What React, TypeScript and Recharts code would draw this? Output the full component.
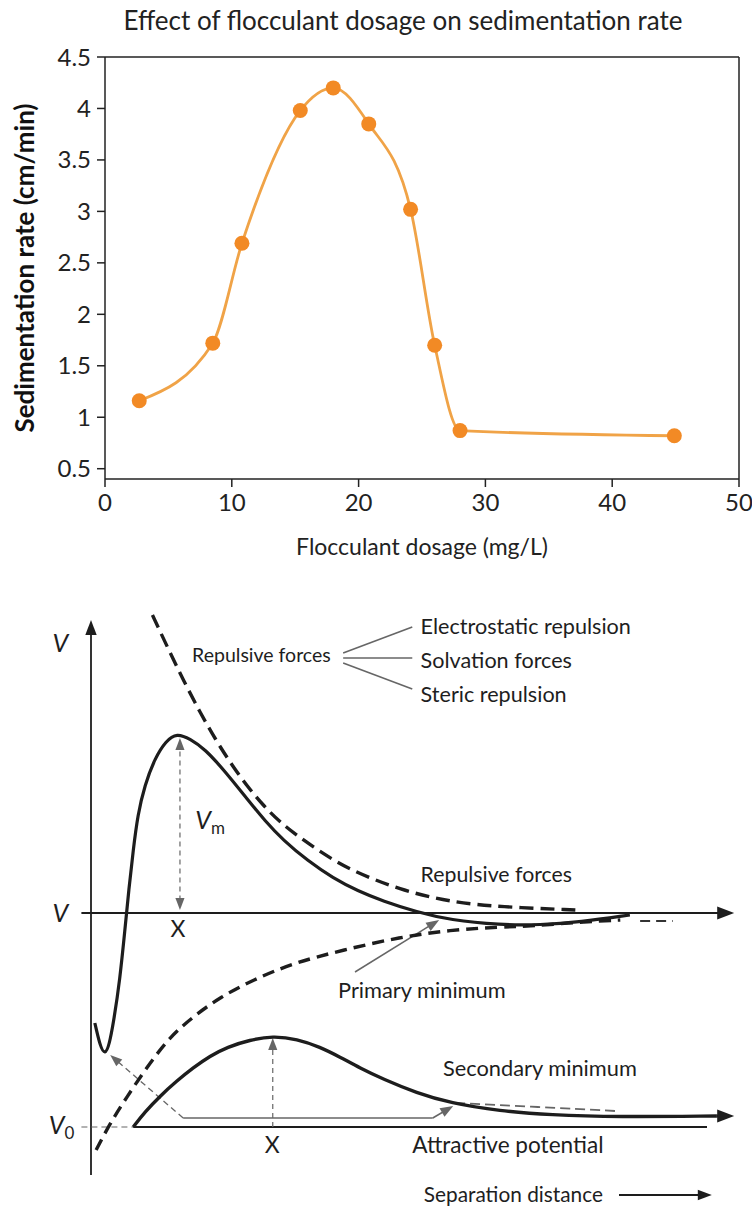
import React from 'react';
import {
  LineChart,
  ComposedChart,
  Line,
  XAxis,
  YAxis,
  ReferenceLine,
  ReferenceDot,
} from 'recharts';

// ---- top chart: sedimentation rate vs flocculant dosage ----
const dosage = [2.7, 8.5, 10.8, 15.4, 18.0, 20.8, 24.1, 26.0, 28.0, 44.9];
const sedimentationRate = [1.16, 1.72, 2.69, 3.98, 4.2, 3.85, 3.02, 1.7, 0.87, 0.82];
const dosageTicks = [0, 10, 20, 30, 40, 50];
const rateTicks = [0.5, 1, 1.5, 2, 2.5, 3, 3.5, 4, 4.5];

// ---- bottom diagram: interaction energy vs separation distance (schematic units) ----
// [distance, potential]
const repulsiveCurve = [
  [9.6, 29.8], [12, 26.5], [14.5, 23.2], [17, 20.1], [19.5, 17.3], [22, 14.8],
  [24.5, 12.6], [27, 10.7], [29.5, 9.1], [32.7, 7.5], [36.6, 5.8], [40.5, 4.3],
  [48.3, 2.3], [56.1, 1.1], [63.9, 0.6], [75.9, 0.3],
];
const attractiveCurve = [
  [0.8, -23.7], [3, -21], [5.6, -18.4], [8.75, -15.4], [12.3, -12.4], [15.9, -10.4],
  [20.2, -8.4], [25.3, -6.7], [31.6, -5], [39.4, -3.7], [48.3, -2.4], [56.1, -1.7],
  [63.9, -1.4], [69.1, -1.3], [76.4, -0.9], [82.7, -0.7],
];
const attractiveTail = [[85.8, -0.8], [90.9, -0.8]];
const netCurve = [
  [0.6, -11], [2.2, -15.4], [3.6, -10.7], [4.5, -6.7], [5.3, -1.7], [5.9, 2.3], [6.6, 6.3],
  [7.3, 9.8], [8.4, 12.8], [10, 15.5], [11.7, 17.2], [13.4, 18.0], [15.5, 17.4],
  [17.8, 16.4], [20.9, 14.2], [24.4, 11.4], [27.2, 9.2], [30, 7.3], [33.9, 5.2],
  [37.8, 3.5], [41.7, 2.2], [45.6, 1.2], [50.9, 0.1], [56.1, -0.7], [63.9, -1.2],
  [70.2, -1.2], [76.4, -0.9], [84.2, -0.2],
];
const secondaryCurve = [
  [6.6, -21.4], [8.4, -19.9], [10.8, -18.3], [13.4, -16.8], [15.9, -15.5], [18.6, -14.3],
  [21.3, -13.4], [24.8, -12.7], [28.4, -12.3], [32.2, -12.6], [35.8, -13.4], [38.9, -14.4],
  [42.0, -15.5], [45.6, -16.6], [50.9, -18.0], [56.1, -19.0], [63.9, -19.8], [71.7, -20.2],
  [82.2, -20.4], [97.8, -20.3],
];
const secondaryTangent = [[56.9, -19.0], [70, -19.4], [81.9, -19.8]];

const V0 = -21.4;
const peakX = 13.9;
const peakV = 17.5;
const barrierX = 28.4;
const barrierV = -12.5;

const toPts = (arr: number[][]) => arr.map(([x, y]) => ({ x, y }));

const FONT = 'Lato, "Open Sans", sans-serif';
const INK = '#1d1d1d';
const GREY = '#666';

const arrowShape =
  (opts: { color: string; width: number; dash?: string; head?: 'end' | 'both' | 'none'; size?: number }) =>
  (p: any) => {
    const { x1, y1, x2, y2 } = p;
    const a = Math.atan2(y2 - y1, x2 - x1);
    const s = opts.size ?? 10;
    const w = s * 0.38;
    const head = (x: number, y: number, ang: number) => {
      const bx = x - s * Math.cos(ang);
      const by = y - s * Math.sin(ang);
      return `M${x},${y} L${bx + w * Math.sin(ang)},${by - w * Math.cos(ang)} L${bx - w * Math.sin(ang)},${by + w * Math.cos(ang)} Z`;
    };
    const h = opts.head ?? 'end';
    const ex = h === 'none' ? x2 : x2 - s * 0.8 * Math.cos(a);
    const ey = h === 'none' ? y2 : y2 - s * 0.8 * Math.sin(a);
    const sx = h === 'both' ? x1 + s * 0.8 * Math.cos(a) : x1;
    const sy = h === 'both' ? y1 + s * 0.8 * Math.sin(a) : y1;
    return (
      <g>
        <line x1={sx} y1={sy} x2={ex} y2={ey} stroke={opts.color} strokeWidth={opts.width} strokeDasharray={opts.dash} />
        {h !== 'none' && <path d={head(x2, y2, a)} fill={opts.color} />}
        {h === 'both' && <path d={head(x1, y1, a + Math.PI)} fill={opts.color} />}
      </g>
    );
  };

const textShape =
  (content: React.ReactNode, anchor: 'start' | 'middle' = 'start', size = 22, italic = false) =>
  (p: any) => (
    <text
      x={p.cx}
      y={p.cy}
      dy="0.35em"
      textAnchor={anchor}
      fontSize={size}
      fontFamily={FONT}
      fontStyle={italic ? 'italic' : 'normal'}
      fill="#1e1e1e"
    >
      {content}
    </text>
  );

const seg = (x1: number, y1: number, x2: number, y2: number) => [
  { x: x1, y: y1 },
  { x: x2, y: y2 },
];

const TopChart = () => (
  <LineChart
    width={752}
    height={575}
    data={dosage.map((d, i) => ({ dosage: d, rate: sedimentationRate[i] }))}
    margin={{ top: 57, right: 13, bottom: 16, left: 0 }}
  >
    <XAxis
      dataKey="dosage"
      type="number"
      domain={[0, 50]}
      ticks={dosageTicks}
      allowDataOverflow
      height={80}
      tickSize={8}
      tickMargin={7}
      axisLine={{ stroke: '#222', strokeWidth: 1.5 }}
      tickLine={{ stroke: '#222', strokeWidth: 1.5 }}
      tick={{ fontSize: 24, fill: '#222', fontFamily: FONT }}
      label={{
        value: 'Flocculant dosage (mg/L)',
        position: 'insideBottom',
        offset: 4,
        style: { fontSize: 23, fill: '#222', fontFamily: FONT },
      }}
    />
    <YAxis
      dataKey="rate"
      type="number"
      domain={[0.4, 4.5]}
      ticks={rateTicks}
      allowDataOverflow
      width={105}
      tickSize={8}
      tickMargin={6}
      axisLine={{ stroke: '#222', strokeWidth: 1.5 }}
      tickLine={{ stroke: '#222', strokeWidth: 1.5 }}
      tick={{ fontSize: 24, fill: '#222', fontFamily: FONT }}
      label={{
        value: 'Sedimentation rate (cm/min)',
        angle: -90,
        position: 'insideLeft',
        offset: 25,
        style: { textAnchor: 'middle', fontSize: 26, fontWeight: 700, fill: '#111', fontFamily: FONT },
      }}
    />
    <ReferenceLine y={4.5} stroke="#222" strokeWidth={1.5} />
    <ReferenceLine x={50} stroke="#222" strokeWidth={1.5} />
    <Line
      type="monotone"
      dataKey="rate"
      stroke="#F0A347"
      strokeWidth={2.8}
      dot={{ r: 7.5, fill: '#F28A25', stroke: '#F28A25', strokeWidth: 0 }}
      isAnimationActive={false}
    />
  </LineChart>
);

const curveLine = (key: string, data: number[][], stroke: string, width: number, dash?: string) => (
  <Line
    key={key}
    data={toPts(data)}
    dataKey="y"
    type="basis"
    stroke={stroke}
    strokeWidth={width}
    strokeDasharray={dash}
    dot={false}
    activeDot={false}
    isAnimationActive={false}
  />
);

const EnergyDiagram = () => (
  <ComposedChart width={752} height={632} margin={{ top: 28, right: 8.2, bottom: 0, left: 27 }}>
    <XAxis dataKey="x" type="number" domain={[-10, 102]} allowDataOverflow hide />
    <YAxis type="number" domain={[-29.4, 31]} allowDataOverflow hide width={0} />

    {/* axes */}
    <ReferenceLine segment={seg(0, -26.2, 0, 29.3)} shape={arrowShape({ color: INK, width: 1.8, size: 15 })} />
    <ReferenceLine segment={seg(-1.5, 0, 100.5, 0)} shape={arrowShape({ color: INK, width: 1.8, size: 17 })} />
    <ReferenceLine segment={seg(-1.5, V0, 6.6, V0)} shape={arrowShape({ color: GREY, width: 1.2, dash: '6 4', head: 'none' })} />
    <ReferenceLine segment={seg(6.6, V0, 96.25, V0)} shape={arrowShape({ color: INK, width: 1.8, head: 'none' })} />

    {/* fan lines */}
    <ReferenceLine segment={seg(39.4, 26.0, 50.2, 28.6)} shape={arrowShape({ color: GREY, width: 1.6, head: 'none' })} />
    <ReferenceLine segment={seg(39.4, 25.5, 50.2, 25.5)} shape={arrowShape({ color: GREY, width: 1.6, head: 'none' })} />
    <ReferenceLine segment={seg(39.4, 25.0, 50.2, 22.4)} shape={arrowShape({ color: GREY, width: 1.6, head: 'none' })} />

    {/* annotation arrows */}
    <ReferenceLine segment={seg(peakX, 0.3, peakX, peakV)} shape={arrowShape({ color: GREY, width: 1.2, dash: '5 4', head: 'both', size: 12 })} />
    <ReferenceLine segment={seg(barrierX, V0, barrierX, barrierV)} shape={arrowShape({ color: GREY, width: 1.2, dash: '5 4', size: 12 })} />
    <ReferenceLine segment={seg(41.25, -5.9, 54.4, -0.7)} shape={arrowShape({ color: GREY, width: 1.5, size: 13 })} />
    <ReferenceLine segment={seg(14.4, -20.5, 53.4, -20.5)} shape={arrowShape({ color: GREY, width: 1.5, head: 'none' })} />
    <ReferenceLine segment={seg(53.4, -20.5, 56.6, -19.3)} shape={arrowShape({ color: GREY, width: 1.5, size: 13 })} />
    <ReferenceLine segment={seg(14.4, -20.5, 3.0, -14.2)} shape={arrowShape({ color: GREY, width: 1.3, dash: '6 4', size: 12 })} />
    <ReferenceLine segment={seg(97.8, -20.3, 100.5, -20.3)} shape={arrowShape({ color: INK, width: 3, size: 17 })} />
    <ReferenceLine segment={seg(82.5, -28.2, 97, -28.2)} shape={arrowShape({ color: INK, width: 1.8, size: 14 })} />

    {/* curves */}
    {curveLine('rep', repulsiveCurve, INK, 3.4, '14 7')}
    {curveLine('att', attractiveCurve, INK, 3.4, '12 7')}
    {curveLine('attTail', attractiveTail, '#333', 2, '10 6')}
    {curveLine('net', netCurve, INK, 3.2)}
    {curveLine('tan', secondaryTangent, GREY, 1.8, '10 5')}
    {curveLine('sec', secondaryCurve, INK, 3.4)}

    {/* labels */}
    <ReferenceDot x={-4.8} y={27} r={0} shape={textShape('V', 'middle', 25, true)} />
    <ReferenceDot x={-4.8} y={0} r={0} shape={textShape('V', 'middle', 25, true)} />
    <ReferenceDot
      x={-4.6}
      y={-21.2}
      r={0}
      shape={textShape(
        <>
          <tspan fontStyle="italic">V</tspan>
          <tspan fontSize={17} dy="0.3em">0</tspan>
        </>,
        'middle',
        25
      )}
    />
    <ReferenceDot
      x={16.3}
      y={9.3}
      r={0}
      shape={textShape(
        <>
          <tspan fontStyle="italic">V</tspan>
          <tspan fontSize={17} dy="0.3em">m</tspan>
        </>,
        'start',
        25
      )}
    />
    <ReferenceDot x={13.6} y={-1.6} r={0} shape={textShape('X', 'middle', 23)} />
    <ReferenceDot x={28.3} y={-23.2} r={0} shape={textShape('X', 'middle', 23)} />
    <ReferenceDot x={15.8} y={25.8} r={0} shape={textShape('Repulsive forces', 'start', 19.5)} />
    <ReferenceDot x={51.5} y={28.7} r={0} shape={textShape('Electrostatic repulsion', 'start', 21.6)} />
    <ReferenceDot x={51.5} y={25.3} r={0} shape={textShape('Solvation forces', 'start', 21.6)} />
    <ReferenceDot x={51.5} y={21.9} r={0} shape={textShape('Steric repulsion', 'start', 21.6)} />
    <ReferenceDot x={51.5} y={3.8} r={0} shape={textShape('Repulsive forces', 'start', 21.3)} />
    <ReferenceDot x={38.6} y={-7.7} r={0} shape={textShape('Primary minimum', 'start', 21.8)} />
    <ReferenceDot x={55} y={-15.5} r={0} shape={textShape('Secondary minimum', 'start', 21.8)} />
    <ReferenceDot x={50.2} y={-23.2} r={0} shape={textShape('Attractive potential', 'start', 22.6)} />
    <ReferenceDot x={52} y={-28.2} r={0} shape={textShape('Separation distance', 'start', 20.8)} />
  </ComposedChart>
);

export default function App() {
  return (
    <div style={{ position: 'absolute', left: 0, top: 0, width: 752, height: 1207, background: '#fff', overflow: 'hidden' }}>
      <div
        style={{
          position: 'absolute',
          left: 403,
          top: 3,
          transform: 'translateX(-50%)',
          whiteSpace: 'nowrap',
          fontFamily: FONT,
          fontSize: 26,
          lineHeight: '34px',
          color: '#222',
        }}
      >
        Effect of flocculant dosage on sedimentation rate
      </div>
      <div style={{ position: 'absolute', left: 0, top: 0 }}>
        <TopChart />
      </div>
      <div style={{ position: 'absolute', left: 0, top: 575 }}>
        <EnergyDiagram />
      </div>
    </div>
  );
}
